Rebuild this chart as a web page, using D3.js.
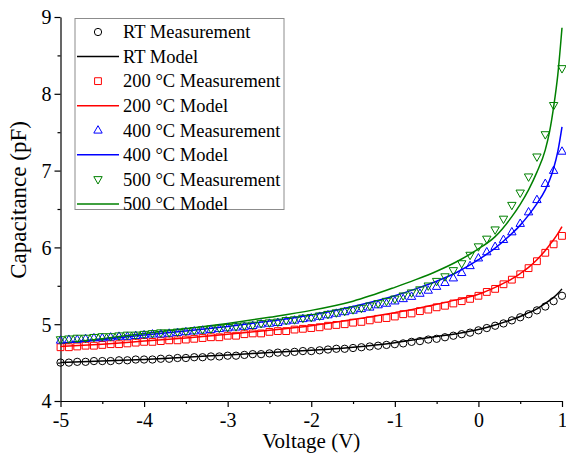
<!DOCTYPE html>
<html>
<head>
<meta charset="utf-8">
<script src="https://cdn.jsdelivr.net/npm/d3@7"></script>
<style>
	body { margin: 0; background: #fff; }
	svg { display: block; }
	text { font-family: "Liberation Serif", "Times New Roman", serif; fill: #000; }
</style>
</head>
<body>
<svg id="chart" width="566" height="454"></svg>
<script>
// Measurement voltages, -5 V to 1 V in 0.1 V steps
const measVoltage = [
	-5.0, -4.9, -4.8, -4.7, -4.6, -4.5, -4.4, -4.3, -4.2, -4.1,
	-4.0, -3.9, -3.8, -3.7, -3.6, -3.5, -3.4, -3.3, -3.2, -3.1,
	-3.0, -2.9, -2.8, -2.7, -2.6, -2.5, -2.4, -2.3, -2.2, -2.1,
	-2.0, -1.9, -1.8, -1.7, -1.6, -1.5, -1.4, -1.3, -1.2, -1.1,
	-1.0, -0.9, -0.8, -0.7, -0.6, -0.5, -0.4, -0.3, -0.2, -0.1,
	0.0, 0.1, 0.2, 0.3, 0.4, 0.5, 0.6, 0.7, 0.8, 0.9, 1.0
]

const rtMeas = [
	4.50, 4.50, 4.51, 4.51, 4.52, 4.52, 4.52, 4.53, 4.53, 4.54,
	4.54, 4.54, 4.55, 4.55, 4.56, 4.56, 4.57, 4.57, 4.58, 4.58,
	4.59, 4.59, 4.60, 4.61, 4.61, 4.62, 4.63, 4.63, 4.64, 4.65,
	4.65, 4.66, 4.67, 4.68, 4.68, 4.69, 4.70, 4.71, 4.72, 4.73,
	4.74, 4.75, 4.77, 4.78, 4.80, 4.81, 4.83, 4.85, 4.87, 4.89,
	4.92, 4.95, 4.98, 5.01, 5.05, 5.09, 5.13, 5.18, 5.23, 5.30, 5.37
]
const t200Meas = [
	4.70, 4.70, 4.71, 4.72, 4.72, 4.73, 4.74, 4.74, 4.75, 4.76,
	4.77, 4.77, 4.78, 4.79, 4.79, 4.80, 4.81, 4.82, 4.83, 4.83,
	4.85, 4.85, 4.87, 4.88, 4.88, 4.90, 4.91, 4.91, 4.93, 4.94,
	4.95, 4.96, 4.98, 4.99, 5.00, 5.02, 5.03, 5.05, 5.07, 5.08,
	5.10, 5.13, 5.14, 5.17, 5.19, 5.22, 5.24, 5.27, 5.30, 5.33,
	5.37, 5.42, 5.46, 5.52, 5.58, 5.65, 5.73, 5.82, 5.93, 6.04, 6.15
]
const t400Meas = [
	4.79, 4.80, 4.80, 4.81, 4.82, 4.82, 4.83, 4.84, 4.84, 4.85,
	4.86, 4.87, 4.87, 4.88, 4.89, 4.90, 4.91, 4.92, 4.93, 4.94,
	4.95, 4.96, 4.97, 4.98, 5.00, 5.01, 5.02, 5.04, 5.05, 5.07,
	5.08, 5.10, 5.12, 5.14, 5.16, 5.18, 5.20, 5.22, 5.25, 5.27,
	5.30, 5.33, 5.36, 5.40, 5.44, 5.49, 5.54, 5.60, 5.67, 5.76,
	5.86, 5.94, 6.01, 6.10, 6.20, 6.31, 6.46, 6.62, 6.83, 7.00, 7.25
]
const t500Meas = [
	4.80, 4.81, 4.82, 4.82, 4.83, 4.84, 4.84, 4.85, 4.86, 4.86,
	4.87, 4.88, 4.89, 4.89, 4.90, 4.91, 4.92, 4.93, 4.94, 4.95,
	4.96, 4.97, 4.98, 4.99, 5.01, 5.02, 5.03, 5.05, 5.06, 5.08,
	5.09, 5.11, 5.13, 5.15, 5.17, 5.19, 5.21, 5.24, 5.27, 5.30,
	5.33, 5.37, 5.41, 5.45, 5.50, 5.56, 5.62, 5.70, 5.79, 5.90,
	6.01, 6.11, 6.23, 6.37, 6.55, 6.71, 6.92, 7.18, 7.47, 7.85, 8.33
]

// Model curves, read at these voltages
const modelVoltage = [
	-5, -4.5, -4, -3.5, -3, -2.5, -2, -1.5, -1, -0.75, -0.5, -0.25,
	0, 0.2, 0.4, 0.5, 0.6, 0.7, 0.8, 0.85, 0.9, 0.95, 1.0
]
const rtModel = [
	4.50, 4.52, 4.54, 4.57, 4.60, 4.63, 4.66, 4.70, 4.76, 4.80, 4.84, 4.88,
	4.93, 4.99, 5.06, 5.10, 5.15, 5.20, 5.27, 5.31, 5.35, 5.40, 5.46
]
const t200Model = [
	4.71, 4.74, 4.78, 4.82, 4.87, 4.92, 4.98, 5.06, 5.15, 5.20, 5.26, 5.32,
	5.39, 5.48, 5.59, 5.66, 5.74, 5.84, 5.96, 6.03, 6.10, 6.18, 6.27
]
const t400Model = [
	4.75, 4.80, 4.86, 4.91, 4.97, 5.04, 5.12, 5.23, 5.37, 5.46, 5.56, 5.68,
	5.84, 5.99, 6.18, 6.29, 6.42, 6.57, 6.75, 6.87, 7.03, 7.25, 7.57
]
const t500Model = [
	4.75, 4.81, 4.88, 4.94, 5.01, 5.09, 5.18, 5.30, 5.48, 5.58, 5.69, 5.82,
	5.98, 6.14, 6.40, 6.56, 6.75, 6.98, 7.27, 7.50, 7.83, 8.25, 8.86
]

const legendLabels = [
	"RT Measurement", "RT Model",
	"200 °C Measurement", "200 °C Model",
	"400 °C Measurement", "400 °C Model",
	"500 °C Measurement", "500 °C Model"
]

const xTicks = [-5, -4, -3, -2, -1, 0, 1]
const yTicks = [4, 5, 6, 7, 8, 9]

const series = [
	{ meas: rtMeas, model: rtModel, colour: "#000000", symbol: "circle" },
	{ meas: t200Meas, model: t200Model, colour: "#ff0000", symbol: "square" },
	{ meas: t400Meas, model: t400Model, colour: "#0000ff", symbol: "up" },
	{ meas: t500Meas, model: t500Model, colour: "#008000", symbol: "down" },
]

const svg = d3.select("#chart")

const x = d3.scaleLinear().domain([-5, 1]).range([60.5, 562])
const y = d3.scaleLinear().domain([4, 9]).range([401, 17])

// Marker path for each symbol type, centred on 0,0
function symbolPath(type) {
	if (type === "circle") return d3.symbol(d3.symbolCircle, 42)()
	if (type === "square") return "M-3.4,-3.4H3.4V3.4H-3.4Z"
	if (type === "up") return "M0,-4.6L4.2,2.8L-4.2,2.8Z"
	return "M0,4.6L4.2,-2.8L-4.2,-2.8Z"
}

// Axes
const fmt = d => d < 0 ? "-" + Math.abs(d) : String(d)

const xAxis = svg.append("g")
	.attr("transform", `translate(0, ${y(4)})`)
	.call(d3.axisBottom(x).tickValues(xTicks).tickFormat(fmt).tickSize(6).tickSizeOuter(0))
xAxis.append("g")
	.call(d3.axisBottom(x).tickValues(d3.range(-4.5, 1, 1)).tickFormat("").tickSize(3).tickSizeOuter(0))
	.select(".domain").remove()

const yAxis = svg.append("g")
	.attr("transform", `translate(${x(-5)}, 0)`)
	.call(d3.axisLeft(y).tickValues(yTicks).tickFormat(fmt).tickSize(6).tickSizeOuter(0))
yAxis.append("g")
	.call(d3.axisLeft(y).tickValues(d3.range(4.5, 9, 1)).tickFormat("").tickSize(3).tickSizeOuter(0))
	.select(".domain").remove()

svg.selectAll(".domain, .tick line")
	.attr("stroke", "#000")
	.attr("stroke-width", 1.2)
svg.selectAll(".tick text")
	.style("font-family", "'Liberation Serif', serif")
	.style("font-size", "20px")
	.attr("fill", "#000")
xAxis.selectAll(".tick text").attr("dy", null).attr("y", 26)
yAxis.selectAll(".tick text").attr("x", -9).attr("dy", "0.34em")

svg.append("text")
	.attr("x", (x(-5) + x(1)) / 2)
	.attr("y", 448)
	.attr("text-anchor", "middle")
	.style("font-size", "21px")
	.text("Voltage (V)")

svg.append("text")
	.attr("transform", "translate(26, 200) rotate(-90)")
	.attr("text-anchor", "middle")
	.style("font-size", "23px")
	.text("Capacitance (pF)")

// Model lines
const line = d3.line()
	.x(d => x(d[0]))
	.y(d => y(d[1]))
	.curve(d3.curveMonotoneX)

const plot = svg.append("g")

series.forEach(s => {
	plot.append("path")
		.datum(modelVoltage.map((v, i) => [v, s.model[i]]))
		.attr("d", line)
		.attr("fill", "none")
		.attr("stroke", s.colour)
		.attr("stroke-width", 1.5)
})

// Measurement markers
series.forEach(s => {
	plot.append("g")
		.selectAll("path")
		.data(measVoltage.map((v, i) => [v, s.meas[i]]))
		.join("path")
		.attr("transform", d => `translate(${x(d[0])}, ${y(d[1])})`)
		.attr("d", symbolPath(s.symbol))
		.attr("fill", "none")
		.attr("stroke", s.colour)
		.attr("stroke-width", 1)
})

// Legend
const legend = svg.append("g")
legend.append("rect")
	.attr("x", 75).attr("y", 18.5)
	.attr("width", 209).attr("height", 191)
	.attr("fill", "#fff")
	.attr("stroke", "#8c8c8c")
	.attr("stroke-width", 1)

const rowY = d3.scaleLinear().domain([0, 7]).range([32, 204])

legendLabels.forEach((label, i) => {
	const s = series[Math.floor(i / 2)]
	const cy = rowY(i)
	if (i % 2 === 0) {
		legend.append("path")
			.attr("transform", `translate(98, ${cy})`)
			.attr("d", symbolPath(s.symbol))
			.attr("fill", "none")
			.attr("stroke", s.colour)
	} else {
		legend.append("line")
			.attr("x1", 77).attr("x2", 119)
			.attr("y1", cy).attr("y2", cy)
			.attr("stroke", s.colour)
			.attr("stroke-width", 1.5)
	}
	legend.append("text")
		.attr("x", 123)
		.attr("y", cy)
		.attr("dy", "0.34em")
		.style("font-size", "18.5px")
		.text(label)
})
</script>
</body>
</html>
